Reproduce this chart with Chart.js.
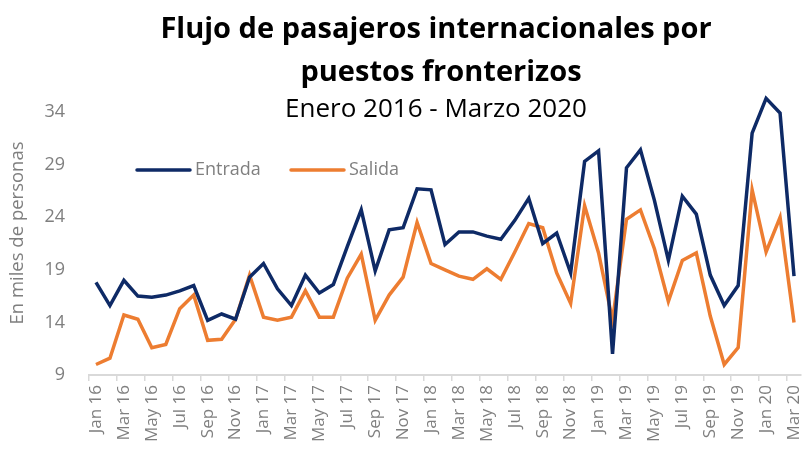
<!DOCTYPE html>
<html>
<head>
<meta charset="utf-8">
<script src="https://cdn.jsdelivr.net/npm/chart.js@4.4.1/dist/chart.umd.min.js"></script>
<style>
  html, body { margin: 0; padding: 0; background: #fff; }
  #wrap { width: 804px; height: 449px; position: relative; }
</style>
</head>
<body>
<div id="wrap"><canvas id="grafico"></canvas></div>
<script>
// meses (ene 2016 - mar 2020)
const meses = [
  'Jan 16','Feb 16','Mar 16','Apr 16','May 16','Jun 16','Jul 16','Aug 16','Sep 16','Oct 16','Nov 16','Dec 16',
  'Jan 17','Feb 17','Mar 17','Apr 17','May 17','Jun 17','Jul 17','Aug 17','Sep 17','Oct 17','Nov 17','Dec 17',
  'Jan 18','Feb 18','Mar 18','Apr 18','May 18','Jun 18','Jul 18','Aug 18','Sep 18','Oct 18','Nov 18','Dec 18',
  'Jan 19','Feb 19','Mar 19','Apr 19','May 19','Jun 19','Jul 19','Aug 19','Sep 19','Oct 19','Nov 19','Dec 19',
  'Jan 20','Feb 20','Mar 20'
]

// en miles de personas
const entrada = [
  17.8, 15.6, 18.0, 16.5, 16.4, 16.6, 17.0, 17.5, 14.2, 14.8, 14.3, 18.3,
  19.6, 17.2, 15.6, 18.5, 16.8, 17.6, 21.2, 24.7, 18.9, 22.8, 23.0, 26.7,
  26.6, 21.4, 22.6, 22.6, 22.2, 21.9, 23.7, 25.8, 21.5, 22.5, 18.7, 29.3,
  30.3, 11.0, 28.7, 30.4, 25.6, 19.9, 26.0, 24.3, 18.5, 15.6, 17.5, 32.0,
  35.3, 33.9, 18.4
]
const salida = [
  10.0, 10.6, 14.7, 14.3, 11.6, 11.9, 15.3, 16.6, 12.3, 12.4, 14.3, 18.5,
  14.5, 14.2, 14.5, 17.0, 14.5, 14.5, 18.2, 20.5, 14.2, 16.6, 18.3, 23.5,
  19.6, 19.0, 18.4, 18.1, 19.1, 18.1, 20.7, 23.4, 23.0, 18.7, 15.8, 25.1,
  20.6, 14.2, 23.8, 24.7, 21.0, 16.0, 19.9, 20.6, 14.6, 10.0, 11.6, 26.6,
  20.7, 24.0, 14.0
]

const ticksY = [9, 14, 19, 24, 29, 34]

const azul = '#0e2a66'
const naranja = '#ed7d31'
const gris = '#7f7f7f'
const fuente = "'Open Sans', 'Noto Sans', sans-serif"

// titulo y subtitulo, dibujados encima (se solapan con el area del grafico)
const tituloPlugin = {
  id: 'tituloPlugin',
  afterDraw(chart) {
    const ctx = chart.ctx
    ctx.save()
    ctx.textAlign = 'center'
    ctx.textBaseline = 'middle'
    ctx.fillStyle = '#000'
    ctx.font = `bold 29px ${fuente}`
    ctx.fillText('Flujo de pasajeros internacionales por', 436, 30)
    ctx.fillText('puestos fronterizos', 441, 73)
    ctx.font = `26px ${fuente}`
    ctx.fillText('Enero 2016 - Marzo 2020', 436, 110)
    ctx.restore()
  }
}

// leyenda dentro del area
const leyendaPlugin = {
  id: 'leyendaPlugin',
  afterDraw(chart) {
    const ctx = chart.ctx
    const items = [
      { texto: 'Entrada', color: chart.data.datasets[0].borderColor, x: 137 },
      { texto: 'Salida', color: chart.data.datasets[1].borderColor, x: 291 }
    ]
    ctx.save()
    ctx.font = `18px ${fuente}`
    ctx.textBaseline = 'middle'
    items.forEach(it => {
      ctx.strokeStyle = it.color
      ctx.lineWidth = 3.5
      ctx.lineCap = 'round'
      ctx.beginPath()
      ctx.moveTo(it.x, 170)
      ctx.lineTo(it.x + 53, 170)
      ctx.stroke()
      ctx.fillStyle = gris
      ctx.fillText(it.texto, it.x + 58, 170)
    })
    ctx.restore()
  }
}

const ctx = document.getElementById('grafico')

const data = {
  labels: meses,
  datasets: [
    {
      label: 'Entrada',
      data: entrada,
      borderColor: azul,
      backgroundColor: azul,
      borderWidth: 3.5,
      pointRadius: 0,
      tension: 0
    },
    {
      label: 'Salida',
      data: salida,
      borderColor: naranja,
      backgroundColor: naranja,
      borderWidth: 3.5,
      pointRadius: 0,
      tension: 0
    }
  ]
}

const config = {
  type: 'line',
  data: data,
  plugins: [tituloPlugin, leyendaPlugin],
  options: {
    responsive: true,
    maintainAspectRatio: false,
    animation: false,
    layout: { padding: { top: 91, right: 3, bottom: 0, left: 0 } },
    plugins: {
      legend: { display: false },
      title: { display: false },
      tooltip: { enabled: false }
    },
    scales: {
      x: {
        offset: true,
        grid: {
          offset: true,
          drawOnChartArea: false,
          drawTicks: true,
          tickLength: 6,
          lineWidth: 1.5,
          color: c => (c.index % 2 === 0 ? '#d9d9d9' : 'rgba(0,0,0,0)')
        },
        border: { display: true, color: '#d9d9d9', width: 2 },
        ticks: {
          autoSkip: false,
          maxRotation: 90,
          minRotation: 90,
          padding: 4,
          color: gris,
          font: { family: fuente, size: 17 },
          callback: function (value, index) {
            return index % 2 === 0 ? this.getLabelForValue(value) : ''
          }
        },
        afterFit: s => {
          s.height = 74
          s.paddingLeft = 0
          s.paddingRight = 0
        }
      },
      y: {
        min: 9,
        max: 36,
        grid: { display: false, drawTicks: false },
        border: { display: false },
        afterBuildTicks: s => {
          s.ticks = ticksY.map(v => ({ value: v }))
        },
        ticks: {
          padding: 24,
          color: gris,
          font: { family: fuente, size: 18 }
        },
        title: {
          display: true,
          text: 'En miles de personas',
          color: gris,
          font: { family: fuente, size: 18.5 },
          padding: { top: 7, bottom: 0 }
        },
        afterFit: s => {
          s.width = 89
        }
      }
    }
  }
}

const miGrafico = new Chart(ctx, config)
</script>
</body>
</html>
